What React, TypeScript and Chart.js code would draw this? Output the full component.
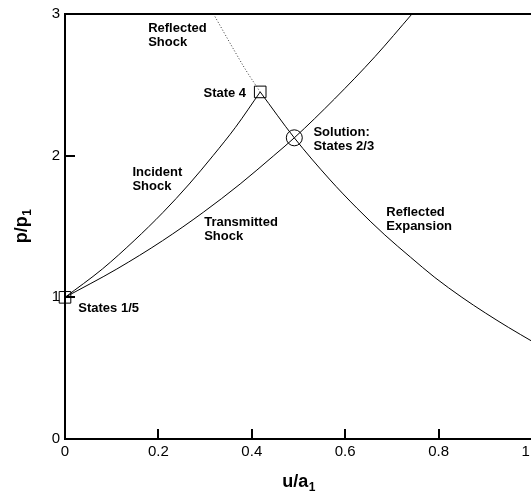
import React, { useEffect, useRef } from "react";
import { Chart, registerables } from "chart.js";

Chart.register(...registerables);

// ---- data ----
const xTickValues = [0, 0.2, 0.4, 0.6, 0.8, 1];
const yTickValues = [0, 1, 2, 3];

const incidentU = [0, 0.08, 0.148, 0.21, 0.266, 0.317, 0.365, 0.418];
const incidentP = [1, 1.2, 1.4, 1.6, 1.8, 2.0, 2.2, 2.45];

const transmittedU = [0, 0.111, 0.209, 0.296, 0.375, 0.447, 0.491, 0.577, 0.664, 0.743];
const transmittedP = [1, 1.2, 1.4, 1.6, 1.8, 2.0, 2.126, 2.4, 2.7, 3.0];

const expansionU = [0.418, 0.491, 0.566, 0.625, 0.685, 0.74, 0.792, 0.85, 0.9, 0.95, 1.0];
const expansionP = [2.45, 2.126, 1.835, 1.63, 1.44, 1.283, 1.14, 1.0, 0.89, 0.787, 0.69];

const reflectedShockU = [0.318, 0.362, 0.388, 0.418];
const reflectedShockP = [3.0, 2.745, 2.6, 2.45];

const stateU = [0, 0.418];
const stateP = [1, 2.45];

const solutionU = [0.491];
const solutionP = [2.126];

const labels = [
  { lines: ["Reflected", "Shock"], u: 0.178, p: 2.872 },
  { lines: ["State 4"], u: 0.2965, p: 2.416 },
  { lines: ["Incident", "Shock"], u: 0.1443, p: 1.856 },
  { lines: ["Transmitted", "Shock"], u: 0.298, p: 1.503 },
  { lines: ["Solution:", "States 2/3"], u: 0.532, p: 2.138 },
  { lines: ["Reflected", "Expansion"], u: 0.688, p: 1.574 },
  { lines: ["States 1/5"], u: 0.0285, p: 0.896 },
];

const xTitle = { main: "u/a", sub: "1" };
const yTitle = { main: "p/p", sub: "1" };

const FONT = "'Liberation Sans', Arial, Helvetica, sans-serif";

const pts = (xs: number[], ys: number[]) => xs.map((x, i) => ({ x, y: ys[i] }));

function drawSubTitle(ctx: CanvasRenderingContext2D, main: string, sub: string, cx: number, baseline: number) {
  ctx.font = `bold 18px ${FONT}`;
  const w1 = ctx.measureText(main).width;
  ctx.font = `bold 12px ${FONT}`;
  const w2 = ctx.measureText(sub).width;
  const start = cx - (w1 + w2) / 2;
  ctx.textAlign = "left";
  ctx.textBaseline = "alphabetic";
  ctx.font = `bold 18px ${FONT}`;
  ctx.fillText(main, start, baseline);
  ctx.font = `bold 12px ${FONT}`;
  ctx.fillText(sub, start + w1 + 0.5, baseline + 4);
}

const decorPlugin = {
  id: "decor",
  afterDraw(chart: any) {
    const { ctx, chartArea, scales } = chart;
    const xs = scales.x;
    const ys = scales.y;
    ctx.save();
    ctx.fillStyle = "#000";
    ctx.strokeStyle = "#000";

    // frame
    ctx.lineWidth = 2;
    ctx.strokeRect(chartArea.left, chartArea.top, chartArea.right - chartArea.left, chartArea.bottom - chartArea.top);

    // inward ticks
    ctx.beginPath();
    xTickValues.forEach((v) => {
      if (v <= 0 || v >= 1) return;
      const X = Math.round(xs.getPixelForValue(v));
      ctx.moveTo(X, chartArea.bottom);
      ctx.lineTo(X, chartArea.bottom - 10);
    });
    yTickValues.forEach((v) => {
      if (v <= 0 || v >= 3) return;
      const Y = Math.round(ys.getPixelForValue(v));
      ctx.moveTo(chartArea.left, Y);
      ctx.lineTo(chartArea.left + 10, Y);
    });
    ctx.stroke();

    // annotations
    ctx.font = `bold 13px ${FONT}`;
    ctx.textAlign = "left";
    ctx.textBaseline = "alphabetic";
    labels.forEach((l) => {
      const X = xs.getPixelForValue(l.u);
      const Y = ys.getPixelForValue(l.p);
      l.lines.forEach((t, i) => ctx.fillText(t, X, Y + i * 13.5));
    });

    // axis titles
    const cx = (chartArea.left + chartArea.right) / 2;
    drawSubTitle(ctx, xTitle.main, xTitle.sub, cx, chart.height - 4);
    const cy = (chartArea.top + chartArea.bottom) / 2;
    ctx.translate(27, cy);
    ctx.rotate(-Math.PI / 2);
    drawSubTitle(ctx, yTitle.main, yTitle.sub, 0, 0);
    ctx.restore();
  },
};

export default function App() {
  const ref = useRef<HTMLCanvasElement | null>(null);

  useEffect(() => {
    if (!ref.current) return;
    const line = {
      showLine: true,
      borderColor: "#000",
      borderWidth: 1,
      pointRadius: 0,
      fill: false,
      cubicInterpolationMode: "monotone" as const,
      clip: false as any,
    };
    const chart = new Chart(ref.current, {
      type: "scatter",
      data: {
        datasets: [
          { ...line, label: "Incident Shock", data: pts(incidentU, incidentP) },
          { ...line, label: "Transmitted Shock", data: pts(transmittedU, transmittedP) },
          { ...line, label: "Reflected Expansion", data: pts(expansionU, expansionP) },
          { ...line, label: "Reflected Shock", data: pts(reflectedShockU, reflectedShockP), borderDash: [1, 2], borderColor: "#333" },
          {
            label: "States",
            data: pts(stateU, stateP),
            showLine: false,
            pointStyle: "rect",
            pointRadius: 8.2,
            pointBorderWidth: 1,
            pointBorderColor: "#000",
            pointBackgroundColor: "rgba(0,0,0,0)",
            clip: false as any,
          },
          {
            label: "Solution",
            data: pts(solutionU, solutionP),
            showLine: false,
            pointStyle: "circle",
            pointRadius: 8,
            pointBorderWidth: 1,
            pointBorderColor: "#000",
            pointBackgroundColor: "rgba(0,0,0,0)",
            clip: false as any,
          },
        ],
      },
      options: {
        responsive: false,
        animation: false,
        devicePixelRatio: 1,
        layout: { padding: { left: 0, right: 68, top: 14, bottom: 0 } },
        plugins: { legend: { display: false }, tooltip: { enabled: false } },
        scales: {
          x: {
            type: "linear",
            min: 0,
            max: 1,
            grid: { display: false, drawTicks: false },
            border: { display: false },
            afterBuildTicks: (s: any) => {
              s.ticks = xTickValues.map((v) => ({ value: v }));
            },
            afterFit: (s: any) => {
              s.height = 52;
            },
            ticks: {
              color: "#000",
              padding: 4,
              maxRotation: 0,
              autoSkip: false,
              font: { family: FONT, size: 15 },
            },
          },
          y: {
            type: "linear",
            min: 0,
            max: 3,
            grid: { display: false, drawTicks: false },
            border: { display: false },
            afterBuildTicks: (s: any) => {
              s.ticks = yTickValues.map((v) => ({ value: v }));
            },
            afterFit: (s: any) => {
              s.width = 65;
            },
            ticks: {
              color: "#000",
              padding: 5,
              autoSkip: false,
              font: { family: FONT, size: 15 },
            },
          },
        },
      },
      plugins: [decorPlugin],
    });
    return () => chart.destroy();
  }, []);

  return (
    <div
      style={{
        position: "absolute",
        left: 0,
        top: 0,
        width: 531,
        height: 491,
        overflow: "hidden",
        background: "#fff",
      }}
    >
      <canvas ref={ref} width={600} height={491} style={{ display: "block", width: 600, height: 491 }} />
    </div>
  );
}
